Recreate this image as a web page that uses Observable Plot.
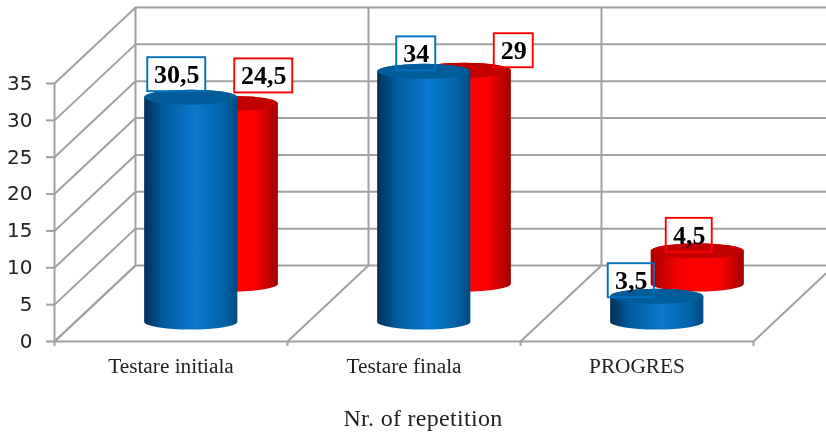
<!DOCTYPE html>
<html>
<head>
<meta charset="utf-8">
<script src="https://cdn.jsdelivr.net/npm/d3@7"></script>
<script src="https://cdn.jsdelivr.net/npm/@observablehq/plot@0.6"></script>
<style>
  html, body { margin: 0; padding: 0; background: #fff; overflow: hidden; }
  svg { display: block; filter: blur(0.45px); }
  #cap { font: 24px "Liberation Serif", serif; letter-spacing: 0.3px; color: #222; position: absolute; left: 0; width: 846px; top: 405px; text-align: center; filter: blur(0.4px); }
</style>
</head>
<body>
<div id="chart"></div>
<div id="cap">Nr. of repetition</div>
<script>
// Data
const categories = ["Testare initiala", "Testare finala", "PROGRES"];
const blueValues = [30.5, 34, 3.5];
const redValues = [24.5, 29, 4.5];
const yTicks = [0, 5, 10, 15, 20, 25, 30, 35];

// Presentation: 3D projection, in scale units, and label placement in pixels
const depthX = 81 / 233, depthY = 10.31;
const cylWidth = 0.4, ry = 7.5;
const blueNudge = [[-14.5, -23], [-8, -18], [-26, -16]];
const redNudge = [[32, -28], [49, -20], [-8.5, -16]];
const boxW = {2: 39, 3: 46, 4: 58}, boxH = 34;
const grid = "#a0a0a0";
const slots = d3.range(categories.length + 1);

const makeRows = (values, nudge, depth, grad, top, edge) => values.map((v, i) => ({
  i, v, depth, grad, top, edge, nudge: nudge[i],
  text: String(v).replace(".", ",")
}));
const blue = makeRows(blueValues, blueNudge, 0.25, "gBlue", "#015c9a", "#0070c0");
const red = makeRows(redValues, redNudge, 0.75, "gRed", "#c20000", "#ff0000");
const all = [...red, ...blue];

const cx = d => d.i + 0.5 + d.depth * depthX;
const base = d => d.depth * depthY;
const tip = d => d.v + d.depth * depthY;

function defs() {
  const s = d3.create("svg:defs");
  const add = (id, stops) => {
    const g = s.append("linearGradient").attr("id", id);
    stops.forEach(([o, c]) => g.append("stop").attr("offset", o).attr("stop-color", c));
  };
  add("gBlue", [[0, "#012f58"], [0.2, "#015a9c"], [0.55, "#0a7acf"], [0.85, "#0263a8"], [1, "#024a80"]]);
  add("gRed", [[0, "#a80000"], [0.28, "#f00000"], [0.45, "#ff0000"], [0.75, "#fa0000"], [1, "#a00000"]]);
  return s.node();
}

const cylinders = rows => Plot.rect(rows, {
  x1: d => cx(d) - cylWidth / 2,
  x2: d => cx(d) + cylWidth / 2,
  y1: base,
  y2: tip,
  render(index, scales, values) {
    const g = d3.create("svg:g");
    for (const i of index) {
      const x1 = values.x1[i], x2 = values.x2[i], y1 = values.y1[i], y2 = values.y2[i];
      const rx = (x2 - x1) / 2, d = rows[i];
      g.append("path")
        .attr("fill", `url(#${d.grad})`)
        .attr("d", `M${x1},${y1}A${rx},${ry} 0 0 0 ${x2},${y1}L${x2},${y2}A${rx},${ry} 0 0 0 ${x1},${y2}Z`);
      g.append("ellipse")
        .attr("cx", (x1 + x2) / 2).attr("cy", y2)
        .attr("rx", rx).attr("ry", ry)
        .attr("fill", d.top);
    }
    return g.node();
  }
});

const boxes = (filled) => Plot.dot(all, {
  x: cx,
  y: tip,
  render(index, scales, values) {
    const g = d3.create("svg:g");
    for (const i of index) {
      const d = all[i], w = boxW[d.text.length];
      g.append("rect")
        .attr("x", values.x[i] + d.nudge[0] - w / 2)
        .attr("y", values.y[i] + d.nudge[1] - boxH / 2)
        .attr("width", w).attr("height", boxH)
        .attr("fill", filled ? "#fff" : "none")
        .attr("stroke", filled ? "none" : d.edge)
        .attr("stroke-width", 1.9);
    }
    return g.node();
  }
});

const wallStyle = {stroke: grid, strokeWidth: 2};

const chart = Plot.plot({
  width: 826,
  height: 400,
  marginLeft: 54,
  marginRight: 73,
  marginTop: 10,
  marginBottom: 59,
  x: {domain: [0, categories.length], range: [54, 753], axis: null},
  y: {domain: [0, 35], range: [341, 83], axis: null},
  marks: [
    defs,
    // walls and floor
    Plot.ruleY(yTicks, {x1: depthX, x2: categories.length + depthX, y: d => d + depthY, ...wallStyle}),
    Plot.ruleX(slots, {x: d => d + depthX, y1: depthY, y2: 35 + depthY, ...wallStyle}),
    Plot.link(yTicks, {x1: 0, y1: d => d, x2: depthX, y2: d => d + depthY, ...wallStyle}),
    Plot.link(slots, {x1: d => d, y1: 0, x2: d => d + depthX, y2: depthY, ...wallStyle}),
    Plot.ruleY([0], {x1: 0, x2: categories.length, ...wallStyle}),
    Plot.ruleX([0], {y1: 0, y2: 35, ...wallStyle}),
    Plot.axisX({ticks: slots, tickFormat: () => "", tickSize: 5, stroke: grid, strokeWidth: 2}),
    Plot.axisY({
      ticks: yTicks, tickSize: 8, tickPadding: 14, label: null,
      stroke: grid, strokeWidth: 2, fill: "#222",
      fontSize: 20, fontFamily: "DejaVu Sans"
    }),
    // category labels
    Plot.text(categories, {
      x: (d, i) => i + 0.5, y: 0, dy: 25, text: d => d,
      fontFamily: "Liberation Serif", fontSize: 21.3, fill: "#222"
    }),
    // white label backgrounds sit behind the cylinders
    boxes(true),
    cylinders(red),
    cylinders(blue),
    boxes(false),
    ...all.map(d => Plot.text([d], {
      x: cx, y: tip, text: r => r.text,
      dx: d.nudge[0], dy: d.nudge[1],
      fontFamily: "Liberation Serif", fontWeight: "bold", fontSize: 26, fill: "#000"
    }))
  ]
});
document.getElementById("chart").append(chart);
</script>
</body>
</html>
